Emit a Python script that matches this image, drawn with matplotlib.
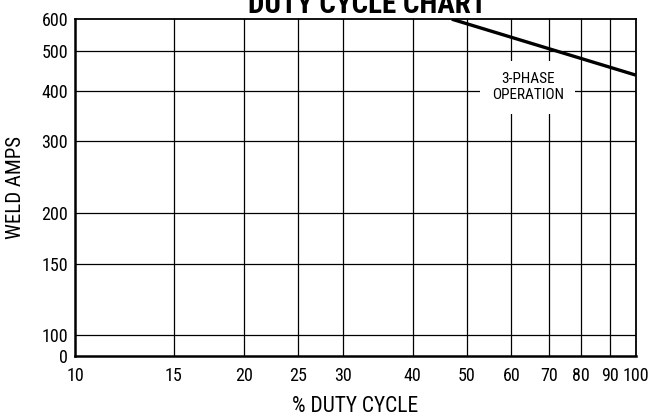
import matplotlib.pyplot as plt
from matplotlib.ticker import FixedLocator, NullLocator

plt.rcParams['font.family'] = ['Roboto Condensed', 'Archivo Narrow', 'DejaVu Sans']

# duty cycle curve (3-phase)
duty = [47, 100]
amps = [600, 437]

x_ticks = [10, 15, 20, 25, 30, 40, 50, 60, 70, 80, 90, 100]
y_ticks = [100, 150, 200, 300, 400, 500, 600]
y_bottom = 88.8  # axis floor, labelled "0"

fig = plt.figure(figsize=(6.52, 4.17), dpi=100)
ax = fig.add_axes([0.115, 0.146, 0.86, 0.808])
ax.set_xscale('log')
ax.set_yscale('log')
ax.set_xlim(10, 100)
ax.set_ylim(y_bottom, 600)

ax.xaxis.set_major_locator(FixedLocator(x_ticks))
ax.xaxis.set_minor_locator(NullLocator())
ax.set_xticklabels([str(t) for t in x_ticks])
ax.yaxis.set_major_locator(FixedLocator([y_bottom] + y_ticks))
ax.yaxis.set_minor_locator(NullLocator())
ax.set_yticklabels(['0'] + [str(t) for t in y_ticks])
ax.tick_params(length=0, labelsize=13)
ax.tick_params(axis='x', pad=8)
ax.tick_params(axis='y', pad=5)

for t in x_ticks[1:-1]:
    ax.axvline(t, color='black', lw=0.9, zorder=1)
for t in y_ticks[:-1]:
    ax.axhline(t, color='black', lw=0.9, zorder=1)

for s in ax.spines.values():
    s.set_linewidth(1.3)
ax.spines['left'].set_linewidth(1.8)
ax.spines['bottom'].set_linewidth(1.8)

ax.plot(duty, amps, color='black', lw=2.4, solid_capstyle='butt', zorder=3)

ax.text(64.2, 408, '3-PHASE\nOPERATION', ha='center', va='center', fontsize=11,
        linespacing=1.2, zorder=2,
        bbox=dict(boxstyle='square,pad=0.75', fc='white', ec='none'))

ax.set_ylabel('WELD AMPS', fontsize=15)
ax.yaxis.set_label_coords(-0.089, 0.5)
fig.text(0.545, 0.012, '% DUTY CYCLE', ha='center', va='baseline', fontsize=15.5)
fig.text(0.563, 0.969, 'DUTY CYCLE CHART', ha='center', va='baseline',
         fontsize=21, fontweight='bold')

fig.savefig('out.png', dpi=100)
